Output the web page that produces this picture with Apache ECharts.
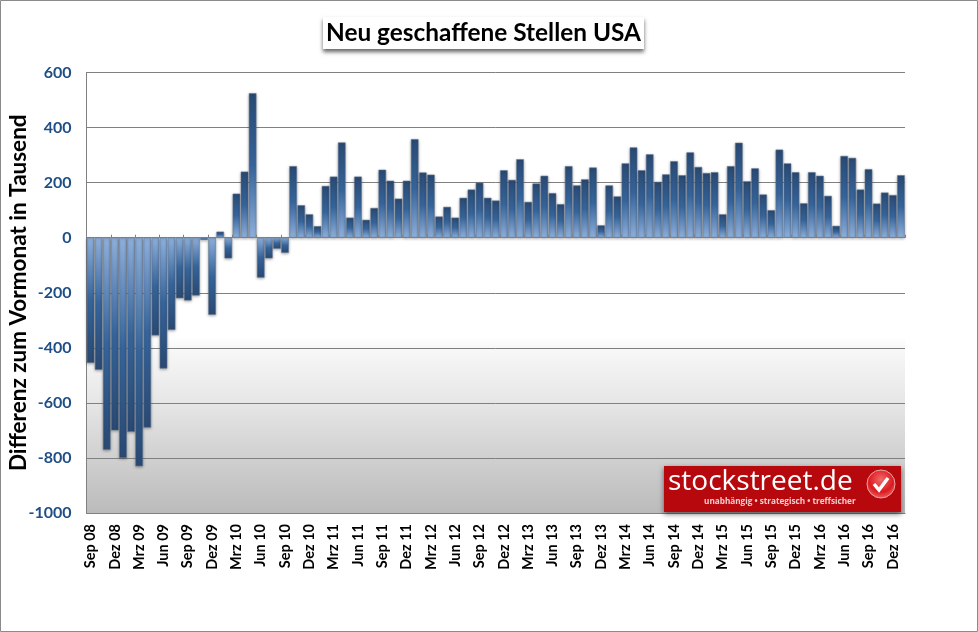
<!DOCTYPE html>
<html>
<head>
<meta charset="utf-8">
<title>Neu geschaffene Stellen USA</title>
<script src="https://cdn.jsdelivr.net/npm/echarts@6/dist/echarts.min.js"></script>
<style>
html, body { margin: 0; padding: 0; background: #fff; }
#chart { width: 978px; height: 632px; }
</style>
</head>
<body>
<div id="chart"></div>
<script>
var months = [
    'Sep 08','Okt 08','Nov 08','Dez 08','Jan 09','Feb 09','Mrz 09','Apr 09','Mai 09','Jun 09','Jul 09','Aug 09',
    'Sep 09','Okt 09','Nov 09','Dez 09','Jan 10','Feb 10','Mrz 10','Apr 10','Mai 10','Jun 10','Jul 10','Aug 10',
    'Sep 10','Okt 10','Nov 10','Dez 10','Jan 11','Feb 11','Mrz 11','Apr 11','Mai 11','Jun 11','Jul 11','Aug 11',
    'Sep 11','Okt 11','Nov 11','Dez 11','Jan 12','Feb 12','Mrz 12','Apr 12','Mai 12','Jun 12','Jul 12','Aug 12',
    'Sep 12','Okt 12','Nov 12','Dez 12','Jan 13','Feb 13','Mrz 13','Apr 13','Mai 13','Jun 13','Jul 13','Aug 13',
    'Sep 13','Okt 13','Nov 13','Dez 13','Jan 14','Feb 14','Mrz 14','Apr 14','Mai 14','Jun 14','Jul 14','Aug 14',
    'Sep 14','Okt 14','Nov 14','Dez 14','Jan 15','Feb 15','Mrz 15','Apr 15','Mai 15','Jun 15','Jul 15','Aug 15',
    'Sep 15','Okt 15','Nov 15','Dez 15','Jan 16','Feb 16','Mrz 16','Apr 16','Mai 16','Jun 16','Jul 16','Aug 16',
    'Sep 16','Okt 16','Nov 16','Dez 16','Jan 17'
];
var jobs = [
    -455,-480,-770,-700,-800,-705,-830,-690,-355,-475,-335,-220,
    -228,-210,-8,-280,22,-75,160,240,525,-145,-75,-40,
    -55,260,118,85,42,188,222,346,73,222,65,108,
    247,207,142,207,358,237,229,77,112,73,145,175,
    200,145,135,245,210,285,130,197,225,162,122,260,
    190,212,255,45,190,150,270,328,245,303,203,230,
    278,227,310,257,235,238,85,260,345,205,252,157,
    100,320,270,238,125,238,225,152,43,297,290,175,
    249,124,164,155,227
];
var yMin = -1000;
var yMax = 600;
var yStep = 200;

var chart = echarts.init(document.getElementById('chart'));

function barColor(value) {
    var dark = '#2a4a74', mid = '#36659c', light = '#8fb1de';
    var stops = value >= 0
        ? [{ offset: 0, color: dark }, { offset: 0.5, color: mid }, { offset: 1, color: light }]
        : [{ offset: 0, color: light }, { offset: 0.5, color: mid }, { offset: 1, color: dark }];
    return { type: 'linear', x: 0, y: 0, x2: 0, y2: 1, colorStops: stops };
}

var option = {
    animation: false,
    backgroundColor: '#fff',
    title: {
        text: 'Neu geschaffene Stellen USA',
        left: 323,
        top: 17,
        padding: [4, 3, 4, 3],
        backgroundColor: '#fff',
        shadowColor: 'rgba(0,0,0,0.6)',
        shadowBlur: 4,
        shadowOffsetY: 3,
        textStyle: { fontFamily: 'Lato', fontSize: 24.4, fontWeight: 'bold', color: '#000' }
    },
    grid: {
        show: true,
        outerBoundsMode: 'none',
        left: 86.5,
        right: 73,
        top: 72.5,
        bottom: 119,
        borderWidth: 0,
        backgroundColor: {
            type: 'linear', x: 0, y: 0, x2: 0, y2: 1,
            colorStops: [
                { offset: 0, color: '#ffffff' },
                { offset: 0.6, color: '#ffffff' },
                { offset: 0.625, color: '#f8f8f8' },
                { offset: 0.75, color: '#e6e6e6' },
                { offset: 0.875, color: '#d0d0d0' },
                { offset: 1, color: '#bbbbbb' }
            ]
        }
    },
    xAxis: [{
        type: 'category',
        data: months,
        position: 'bottom',
        axisLine: { onZero: false, lineStyle: { color: '#808080' } },
        axisTick: { show: false },
        axisLabel: {
            interval: 2,
            rotate: 90,
            margin: 11,
            fontFamily: 'Lato',
            fontSize: 14.5,
            fontWeight: 'bold',
            color: '#000'
        }
    }, {
        type: 'category',
        data: months,
        position: 'bottom',
        z: 5,
        axisLine: { onZero: true, lineStyle: { color: '#808080', width: 1 } },
        axisTick: { show: true, interval: 2, inside: true, length: 3, lineStyle: { color: '#808080' } },
        axisLabel: { show: false }
    }],
    yAxis: {
        type: 'value',
        min: yMin,
        max: yMax,
        interval: yStep,
        name: 'Differenz zum Vormonat in Tausend',
        nameLocation: 'middle',
        nameMoveOverlap: false,
        nameGap: 56,
        nameTextStyle: { fontFamily: 'Lato', fontSize: 22.5, fontWeight: 'bold', color: '#000' },
        axisLine: { show: true, lineStyle: { color: '#808080' } },
        axisTick: { show: false },
        axisLabel: {
            margin: 15,
            fontFamily: 'Lato',
            fontSize: 16,
            fontWeight: 'bold',
            color: '#1f4e87',
            formatter: function(value) {
                return String(value);
            }
        },
        splitLine: { show: true, lineStyle: { color: '#808080', width: 1 } }
    },
    series: [{
        type: 'bar',
        xAxisIndex: 0,
        yAxisIndex: 0,
        barCategoryGap: '6%',
        z: 3,
        data: jobs.map(function(v) {
            return {
                value: v,
                itemStyle: {
                    color: barColor(v),
                    borderColor: 'rgba(100,120,145,0.9)',
                    borderWidth: 0.6,
                    shadowColor: 'rgba(0,0,0,0.35)',
                    shadowBlur: 3,
                    shadowOffsetY: 1
                }
            };
        })
    }],
    graphic: [
        { type: 'rect', z: 0, silent: true, shape: { x: 0.5, y: 0.5, width: 977, height: 631 },
          style: { fill: 'none', stroke: '#8a8a8a', lineWidth: 1 } },
        { type: 'rect', z: 10, silent: true, shape: { x: 664, y: 466, width: 237, height: 46 },
          style: { fill: '#b7090d', shadowColor: 'rgba(0,0,0,0.55)', shadowBlur: 5, shadowOffsetY: 2 } },
        { type: 'text', z: 11, silent: true, left: 668, top: 468,
          style: { text: 'stockstreet.de', fill: '#fff', font: '28px "Open Sans"' } },
        { type: 'text', z: 11, silent: true, left: 704, top: 498,
          style: { text: 'unabhängig • strategisch • treffsicher', fill: '#f3cfcf', font: 'bold 8.2px "Open Sans"' } },
        { type: 'circle', z: 11, silent: true, shape: { cx: 881, cy: 484, r: 14 },
          style: {
              stroke: '#e9a6a6', lineWidth: 1,
              fill: { type: 'radial', x: 0.5, y: 0.35, r: 0.7,
                  colorStops: [{ offset: 0, color: '#f26a6a' }, { offset: 0.6, color: '#dc1a1f' }, { offset: 1, color: '#f0716f' }] }
          } },
        { type: 'polyline', z: 12, silent: true, shape: { points: [[874, 484], [879, 490], [888, 478]] },
          style: { fill: 'none', stroke: '#fff', lineWidth: 3.5 } }
    ]
};

chart.setOption(option);

window.onresize = function() {
    chart.resize();
};
</script>
</body>
</html>
